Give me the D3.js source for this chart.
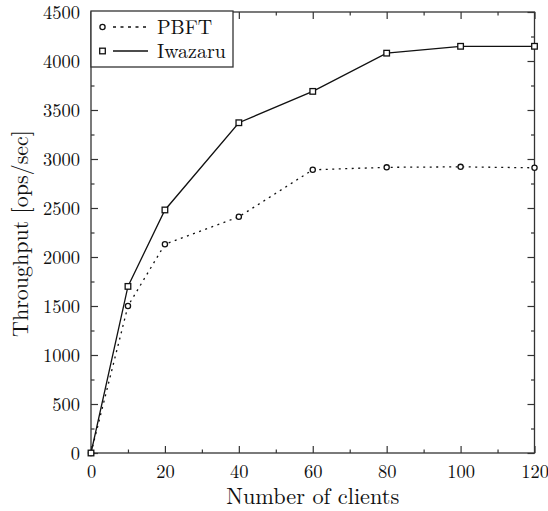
<!DOCTYPE html>
<html>
<head>
<meta charset="utf-8">
<script src="https://cdn.jsdelivr.net/npm/d3@7"></script>
<style>
  html, body { margin: 0; padding: 0; background: #fff; }
  svg { display: block; }
</style>
</head>
<body>
<svg id="chart" width="548" height="511"></svg>
<script>
// Throughput vs. number of clients
const clients = [0, 10, 20, 40, 60, 80, 100, 120];
const pbft    = [0, 1500, 2130, 2410, 2890, 2915, 2920, 2910];
const iwazaru = [0, 1700, 2480, 3370, 3690, 4080, 4150, 4150];

const xTicks = [0, 20, 40, 60, 80, 100, 120];
const xMinorTicks = [10, 30, 50, 70, 90, 110];
const yTicks = [0, 500, 1000, 1500, 2000, 2500, 3000, 3500, 4000, 4500];
const yMinorTicks = [250, 750, 1250, 1750, 2250, 2750, 3250, 3750, 4250];

const seriesNames = ["PBFT", "Iwazaru"];
const xTitle = "Number of clients";
const yTitle = "Throughput [ops/sec]";

const FONT = '"Latin Modern Roman", "Liberation Serif", serif';

const svg = d3.select("#chart");
const plotL = 91, plotR = 534.5, plotT = 12, plotB = 453;

const x = d3.scaleLinear().domain([0, 120]).range([plotL, plotR]);
const y = d3.scaleLinear().domain([0, 4500]).range([plotB, plotT]);

const axisColor = "#333";
const major = 7, minor = 3.5;

// frame
svg.append("rect")
  .attr("x", plotL).attr("y", plotT)
  .attr("width", plotR - plotL).attr("height", plotB - plotT)
  .attr("fill", "none").attr("stroke", axisColor).attr("stroke-width", 1.3);

// inward ticks on all four sides
function tickGroup(axisGen, tr, vals, size) {
  const g = svg.append("g").attr("transform", tr)
    .call(axisGen.tickValues(vals).tickSizeInner(size).tickSizeOuter(0).tickFormat(""));
  g.select(".domain").remove();
  g.selectAll(".tick line").attr("stroke", axisColor).attr("stroke-width", 1.2);
  return g;
}
tickGroup(d3.axisTop(x), `translate(0,${plotB})`, xTicks, major);
tickGroup(d3.axisTop(x), `translate(0,${plotB})`, xMinorTicks, minor);
tickGroup(d3.axisBottom(x), `translate(0,${plotT})`, xTicks, major);
tickGroup(d3.axisBottom(x), `translate(0,${plotT})`, xMinorTicks, minor);
tickGroup(d3.axisRight(y), `translate(${plotL},0)`, yTicks, major);
tickGroup(d3.axisRight(y), `translate(${plotL},0)`, yMinorTicks, minor);
tickGroup(d3.axisLeft(y), `translate(${plotR},0)`, yTicks, major);
tickGroup(d3.axisLeft(y), `translate(${plotR},0)`, yMinorTicks, minor);

// tick labels
const xl = svg.append("g").attr("transform", `translate(0,${plotB})`)
  .call(d3.axisBottom(x).tickValues(xTicks).tickSize(0).tickPadding(25).tickFormat(d3.format("d")));
xl.select(".domain").remove();
xl.selectAll("text").attr("font-size", 18.5).attr("dy", null).style("font-family", FONT).attr("fill", "#111");

const yl = svg.append("g").attr("transform", `translate(${plotL},0)`)
  .call(d3.axisLeft(y).tickValues(yTicks).tickSize(0).tickPadding(11).tickFormat(d3.format("d")));
yl.select(".domain").remove();
yl.selectAll("text").attr("font-size", 18.5).attr("dy", "0.33em").style("font-family", FONT).attr("fill", "#111");

// axis titles
svg.append("text")
  .attr("x", (plotL + plotR) / 2).attr("y", 503.5)
  .attr("text-anchor", "middle").attr("font-size", 22.3).attr("fill", "#111")
  .style("font-family", FONT)
  .text(xTitle);
svg.append("text")
  .attr("transform", `translate(28,${(plotT + plotB) / 2 + 1}) rotate(-90)`)
  .attr("text-anchor", "middle").attr("font-size", 22).attr("fill", "#111")
  .style("font-family", FONT)
  .text(yTitle);

// series
const pts = vals => clients.map((c, i) => [c, vals[i]]);
const line = d3.line().x(d => x(d[0])).y(d => y(d[1]));

svg.append("path").datum(pts(pbft))
  .attr("d", line).attr("fill", "none").attr("stroke", "#111")
  .attr("stroke-width", 1.3).attr("stroke-dasharray", "2,4.5");
svg.append("path").datum(pts(iwazaru))
  .attr("d", line).attr("fill", "none").attr("stroke", "#111")
  .attr("stroke-width", 1.3);

svg.append("g").selectAll("circle").data(pts(pbft)).join("circle")
  .attr("cx", d => x(d[0])).attr("cy", d => y(d[1])).attr("r", 2.6)
  .attr("fill", "#fff").attr("stroke", "#111").attr("stroke-width", 1.3);
svg.append("g").selectAll("rect").data(pts(iwazaru)).join("rect")
  .attr("x", d => x(d[0]) - 2.8).attr("y", d => y(d[1]) - 2.8)
  .attr("width", 5.6).attr("height", 5.6)
  .attr("fill", "#fff").attr("stroke", "#111").attr("stroke-width", 1.3);

// legend
const lg = svg.append("g");
lg.append("rect").attr("x", plotL).attr("y", plotT - 1).attr("width", 233 - plotL).attr("height", 67 - (plotT - 1))
  .attr("fill", "#fff").attr("stroke", axisColor).attr("stroke-width", 1.3);
const rows = [27, 51];
seriesNames.forEach((name, i) => {
  const yy = rows[i];
  lg.append("line").attr("x1", 113).attr("x2", 148).attr("y1", yy).attr("y2", yy)
    .attr("stroke", "#111").attr("stroke-width", 1.3)
    .attr("stroke-dasharray", i === 0 ? "3,4.5" : null);
  if (i === 0) {
    lg.append("circle").attr("cx", 102.5).attr("cy", yy).attr("r", 2.6)
      .attr("fill", "#fff").attr("stroke", "#111").attr("stroke-width", 1.3);
  } else {
    lg.append("rect").attr("x", 102.5 - 2.8).attr("y", yy - 2.8).attr("width", 5.6).attr("height", 5.6)
      .attr("fill", "#fff").attr("stroke", "#111").attr("stroke-width", 1.3);
  }
  lg.append("text").attr("x", 157).attr("y", yy + 6.5).attr("font-size", 20).attr("fill", "#111")
    .style("font-family", FONT).text(name);
});
</script>
</body>
</html>
